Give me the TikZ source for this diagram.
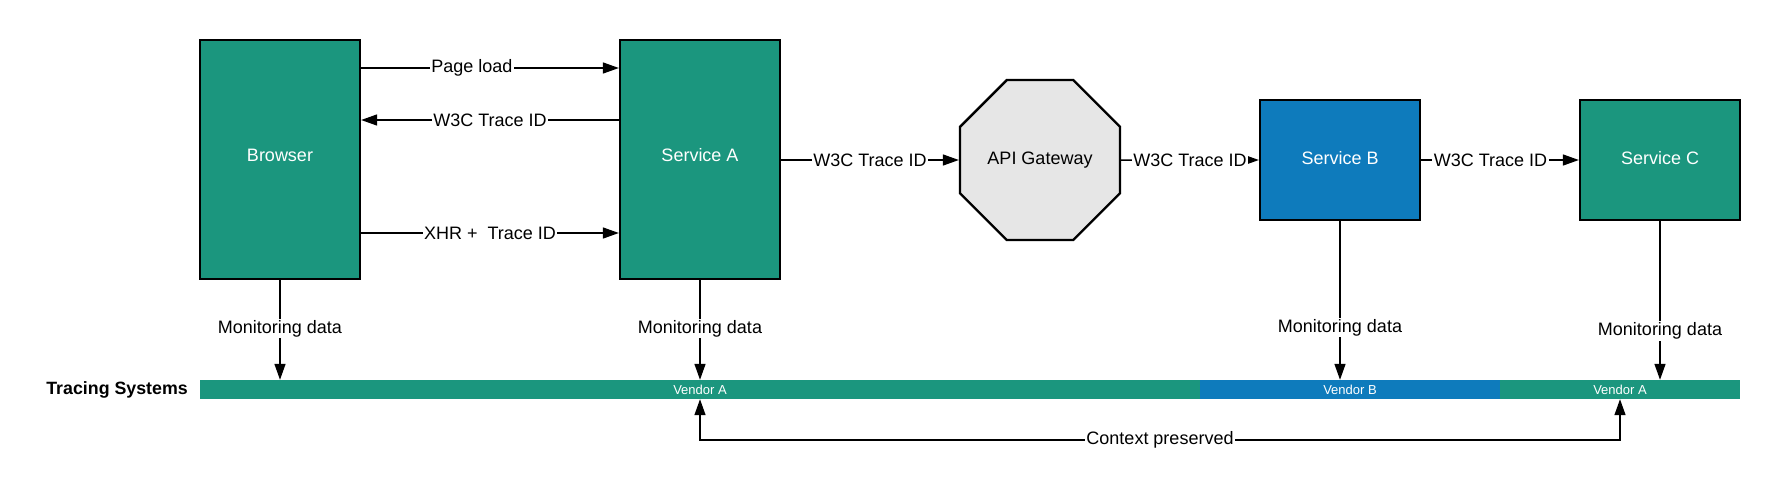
\documentclass[tikz,border=0pt]{standalone}
\usepackage{fontspec}
\setmainfont{Liberation Sans}
\usetikzlibrary{arrows.meta,shapes.geometric,calc}
\definecolor{tgreen}{HTML}{1B967E}
\definecolor{tblue}{HTML}{0E7BBC}
\definecolor{gwgray}{HTML}{E6E6E6}
\newcommand{\upby}[2]{\raisebox{#1}[\height][\depth]{#2}}
\begin{document}
\begin{tikzpicture}[x=1pt,y=-1pt,
  txt/.style={font=\fontsize{18}{21}\selectfont},
  box/.style={txt, draw=black, line width=2.3pt, fill=tgreen, text=white, inner sep=0pt},
  tip/.style={-{Triangle[length=16pt,width=11pt]}},
  conn/.style={line width=1.5pt, tip},
  lbl/.style={txt, fill=white, inner sep=1.5pt},
  seg/.style={draw=none, inner sep=0pt, minimum height=19pt, text=white, font=\fontsize{13}{15}\selectfont}
]
\useasboundingbox (0,0) rectangle (1780,491);

% boxes
\node[box, minimum width=160pt, minimum height=239pt] (browser) at (280,159.5) {\upby{4.5pt}{Browser}};
\node[box, minimum width=160pt, minimum height=239pt] (sa) at (700,159.5) {\upby{4.5pt}{Service A}};
\node[txt, draw=black, line width=2.3pt, fill=gwgray, regular polygon, regular polygon sides=8,
      minimum size=173.2pt, inner sep=0pt] (gw) at (1040,160) {API Gateway};
\node[box, fill=tblue, minimum width=160pt, minimum height=120pt] (sb) at (1340,160) {\upby{1.5pt}{Service B}};
\node[box, minimum width=160pt, minimum height=120pt] (sc) at (1660,160) {\upby{1.5pt}{Service C}};

% tracing systems bar
\node[seg, fill=tgreen, minimum width=1000pt] (bar1) at (700,389.5) {Vendor A};
\node[seg, fill=tblue, minimum width=300pt] (bar2) at (1350,389.5) {Vendor B};
\node[seg, fill=tgreen, minimum width=240pt] (bar3) at (1620,389.5) {Vendor A};
\node[font=\fontsize{17.8}{21}\selectfont\bfseries, anchor=east, inner sep=0pt] (ts) at (188,389.5) {Tracing Systems};

% browser <-> service A
\draw[conn] (browser.east |- 0,68) -- node[lbl, pos=.43] {Page load} (sa.west |- 0,68);
\draw[conn] (sa.west |- 0,120) -- node[lbl] {W3C Trace ID} (browser.east |- 0,120);
\draw[conn] (browser.east |- 0,233) -- node[lbl] {XHR +\ \ Trace ID} (sa.west |- 0,233);

% chain
\draw[conn] (sa.east |- gw.west) -- node[lbl] {W3C Trace ID} (gw.west);
\draw[conn] (gw.east) -- node[lbl] {W3C Trace ID} (sb.west);
\draw[conn] (sb.east) -- node[lbl, pos=.44] {W3C Trace ID} (sc.west);

% monitoring data
\draw[conn] (browser.south) -- node[lbl, pos=.485] {Monitoring data} (browser.south |- bar1.north);
\draw[conn] (sa.south) -- node[lbl, pos=.485] {Monitoring data} (sa.south |- bar1.north);
\draw[conn] (sb.south) -- node[lbl, pos=.67] {Monitoring data} (sb.south |- bar2.north);
\draw[conn] (sc.south) -- node[lbl, pos=.69] {Monitoring data} (sc.south |- bar3.north);

% context preserved
\draw[line width=1.5pt, {Triangle[length=16pt,width=11pt]}-{Triangle[length=16pt,width=11pt]}]
  (bar1.south) -- ($(bar1.south)+(0,41)$) coordinate (c1) -| (bar3.south);
\node[lbl] (cp) at ($(c1)!0.5!(c1 -| bar3.south)$) {Context preserved};
\end{tikzpicture}
\end{document}
